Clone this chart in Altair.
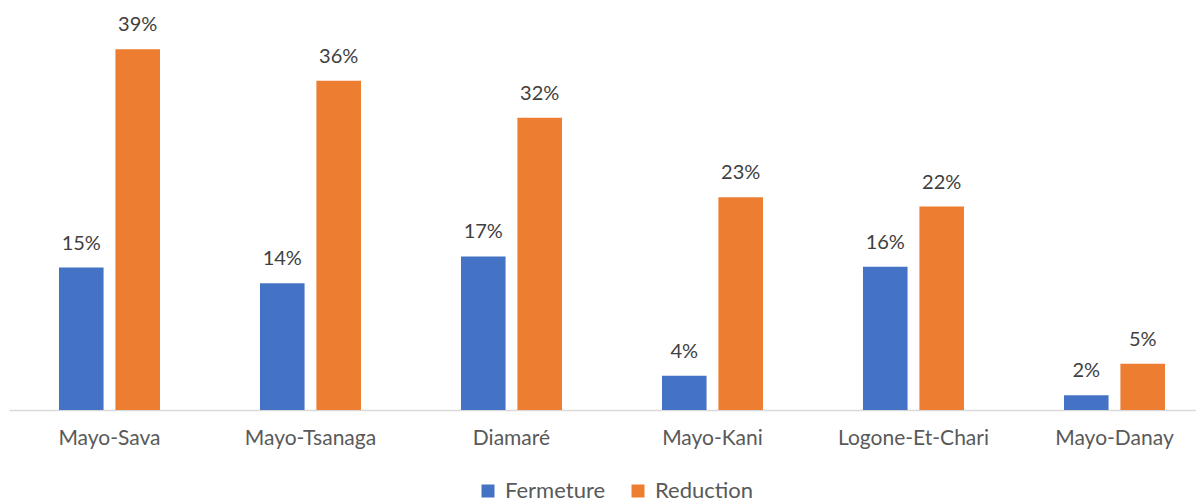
import altair as alt
import pandas as pd

regions = ["Mayo-Sava", "Mayo-Tsanaga", "Diamaré", "Mayo-Kani", "Logone-Et-Chari", "Mayo-Danay"]
fermeture = [15.4, 13.7, 16.6, 3.7, 15.5, 1.6]
reduction = [39.0, 35.6, 31.6, 23.0, 22.0, 5.0]
series = ["Fermeture", "Reduction"]
colors = ["#4472C4", "#ED7D31"]

rows = []
for i, r in enumerate(regions):
    rows.append({"region": r, "serie": series[0], "value": fermeture[i] / 100})
    rows.append({"region": r, "serie": series[1], "value": reduction[i] / 100})
df = pd.DataFrame(rows)

FONT = "Lato"

x_scale = alt.Scale(paddingInner=0.4975, paddingOuter=0.2015, align=0.617)
x_enc = alt.X(
    "region:N",
    sort=regions,
    title=None,
    scale=x_scale,
    axis=alt.Axis(
        labelAngle=0,
        labelFontSize=21,
        labelColor="#595959",
        labelFont=FONT,
        labelPadding=17,
        ticks=False,
        domainColor="#D9D9D9",
        domainWidth=1.3,
        grid=False,
    ),
)
xo_enc = alt.XOffset("serie:N", sort=series, scale=alt.Scale(paddingInner=0.21, paddingOuter=0))
y_scale = alt.Scale(domain=[0, 0.40], nice=False)

bars = alt.Chart(df).mark_bar().encode(
    x=x_enc,
    xOffset=xo_enc,
    y=alt.Y("value:Q", scale=y_scale, axis=None),
    color=alt.Color(
        "serie:N",
        sort=series,
        scale=alt.Scale(domain=series, range=colors),
        legend=alt.Legend(
            orient="none",
            legendX=468,
            legendY=440,
            direction="horizontal",
            title=None,
            symbolType="square",
            symbolSize=169,
            symbolStrokeWidth=0,
            labelFontSize=22,
            labelFont=FONT,
            labelColor="#595959",
            labelOffset=6,
            columnPadding=21,
            padding=0,
        ),
    ),
)

labels = alt.Chart(df).mark_text(
    baseline="middle", dy=-24, fontSize=20, font=FONT, color="#404040"
).encode(
    x=alt.X("region:N", sort=regions),
    xOffset=alt.XOffset("serie:N", sort=series),
    y=alt.Y("value:Q", axis=None),
    text=alt.Text("value:Q", format=".0%"),
)

chart = (
    alt.layer(bars, labels)
    .properties(
        width=1187,
        height=370,
        autosize=alt.AutoSizeParams(type="none"),
        padding={"left": 1, "top": 32, "right": 0, "bottom": 90},
        background="white",
    )
    .configure(font=FONT)
    .configure_view(strokeWidth=0, stroke="transparent")
    .configure_axis(grid=False)
)

chart.save("out.html", embed_options={"renderer": "svg", "actions": False})
